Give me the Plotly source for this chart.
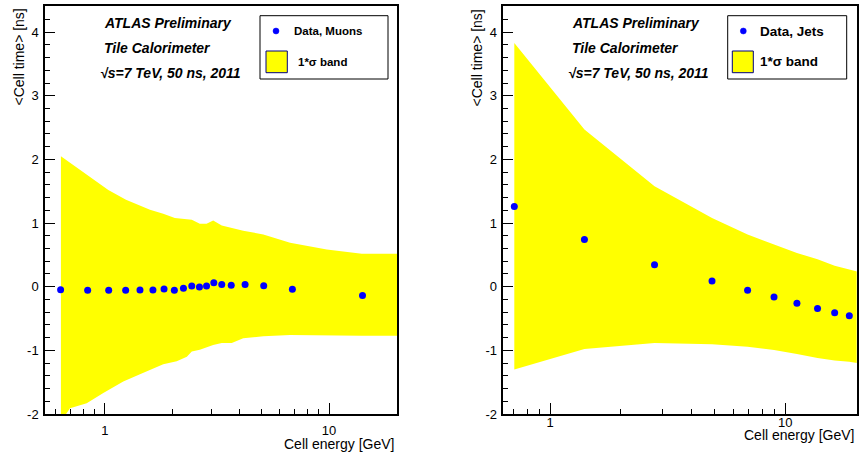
import numpy as np
import plotly.graph_objects as go

# ---------------- data ----------------
# Left panel: muons
mu_E = [0.634, 0.837, 1.039, 1.237, 1.433, 1.637, 1.835, 2.04, 2.24, 2.44,
        2.64, 2.84, 3.06, 3.32, 3.66, 4.22, 5.11, 6.86, 14.1]
mu_t = [-0.047, -0.057, -0.057, -0.057, -0.052, -0.052, -0.036, -0.057, -0.026, 0.010,
        -0.005, 0.010, 0.062, 0.036, 0.021, 0.036, 0.016, -0.042, -0.14]

mu_band_up_E = [0.636, 0.857, 1.035, 1.241, 1.588, 1.82, 2.05, 2.44, 2.65, 2.84,
                3.04, 3.32, 4.14, 5.09, 6.70, 9.77, 14.0, 21.0]
mu_band_up = [2.05, 1.73, 1.52, 1.365, 1.21, 1.146, 1.08, 1.05, 0.99, 0.99,
              1.04, 0.96, 0.88, 0.82, 0.69, 0.583, 0.516, 0.516]
mu_band_lo_E = [0.636, 0.698, 0.829, 0.983, 1.207, 1.433, 1.82, 2.09, 2.32, 2.44,
                2.65, 3.04, 3.32, 3.68, 4.14, 5.09, 6.70, 9.77, 14.0, 21.0]
mu_band_lo = [-2.12, -1.91, -1.83, -1.67, -1.49, -1.375, -1.22, -1.17, -1.10, -1.02,
              -0.99, -0.917, -0.885, -0.885, -0.81, -0.78, -0.76, -0.77, -0.77, -0.77]

# Right panel: jets
jet_E = [0.705, 1.40, 2.78, 4.88, 6.91, 8.95, 11.2, 13.7, 16.2, 18.7]
jet_t = [1.26, 0.74, 0.344, 0.089, -0.057, -0.161, -0.26, -0.344, -0.41, -0.458]

jet_band_E = [0.705, 1.40, 2.78, 4.88, 6.91, 8.95, 11.2, 13.7, 16.2, 18.7, 21.0]
jet_band_up = [3.83, 2.47, 1.58, 1.08, 0.82, 0.66, 0.53, 0.43, 0.33, 0.27, 0.22]
jet_band_lo = [-1.30, -0.98, -0.885, -0.906, -0.943, -0.995, -1.057, -1.12, -1.16, -1.18, -1.21]

y_major = [-2, -1, 0, 1, 2, 3, 4]
y_major_text = ["-2", "-1", "0", "1", "2", "3", "4"]
x_major = [1, 10]
x_major_text = ["1", "10"]
x_minor = [0.5, 0.6, 0.7, 0.8, 0.9, 2, 3, 4, 5, 6, 7, 8, 9, 20]

W, H = 859, 455
YELLOW = "#ffff00"
BLUE = "#0000ff"
FONT = "Liberation Sans, Arial, Helvetica, sans-serif"

fig = go.Figure()

# bands
fig.add_trace(go.Scatter(
    x=mu_band_up_E + mu_band_lo_E[::-1], y=mu_band_up + mu_band_lo[::-1],
    fill="toself", fillcolor=YELLOW, line=dict(width=0), mode="lines",
    hoverinfo="skip", showlegend=False, xaxis="x", yaxis="y"))
fig.add_trace(go.Scatter(
    x=jet_band_E + jet_band_E[::-1], y=jet_band_up + jet_band_lo[::-1],
    fill="toself", fillcolor=YELLOW, line=dict(width=0), mode="lines",
    hoverinfo="skip", showlegend=False, xaxis="x2", yaxis="y2"))

# points
fig.add_trace(go.Scatter(x=mu_E, y=mu_t, mode="markers",
                         marker=dict(color=BLUE, size=7), showlegend=False,
                         xaxis="x", yaxis="y"))
fig.add_trace(go.Scatter(x=jet_E, y=jet_t, mode="markers",
                         marker=dict(color=BLUE, size=7), showlegend=False,
                         xaxis="x2", yaxis="y2"))

y_minor = [round(v, 1) for v in np.arange(-2.0, 4.41, 0.2) if abs(v - round(v)) > 1e-6]


def xax(dom, rng, anchor, standoff):
    return dict(type="log", domain=dom, range=rng, anchor=anchor,
                automargin=False,
                showgrid=False, zeroline=False,
                showline=True, mirror=True, linecolor="black", linewidth=1.5,
                ticks="inside", ticklen=11, tickwidth=1.3, tickcolor="black",
                tickmode="array", tickvals=x_major, ticktext=x_major_text,
                ticklabelstandoff=standoff,
                tickfont=dict(family=FONT, size=13, color="black"),
                minor=dict(tickmode="array", tickvals=x_minor, ticklen=5,
                           tickwidth=1.3, tickcolor="black", ticks="inside",
                           showgrid=False))


def yax(dom, anchor):
    return dict(domain=dom, range=[-2, 4.41], anchor=anchor,
                automargin=False,
                showgrid=False, zeroline=False,
                showline=True, mirror=True, linecolor="black", linewidth=1.5,
                ticks="inside", ticklen=10, tickwidth=1.3, tickcolor="black",
                tickmode="array", tickvals=y_major, ticktext=y_major_text,
                ticklabelstandoff=2,
                tickfont=dict(family=FONT, size=13, color="black"),
                minor=dict(tickmode="array", tickvals=y_minor, ticklen=5,
                           tickwidth=1.3, tickcolor="black", ticks="inside",
                           showgrid=False))


ydom = [1 - 414 / H, 1 - 6 / H]
fig.update_layout(
    template="none",
    width=W, height=H, margin=dict(l=0, r=0, t=0, b=0, pad=0),
    paper_bgcolor="white", plot_bgcolor="white", showlegend=False,
    xaxis=xax([45 / W, 397 / W], [np.log10(0.54), np.log10(20.1)], "y", 4),
    yaxis=yax(ydom, "x"),
    xaxis2=xax([503.3 / W, 856.7 / W], [np.log10(0.633), np.log10(20.1)], "y2", -4),
    yaxis2=yax(ydom, "x2"),
)

ann = []
shapes = []


def px(x):
    return x / W


def py(y):
    return 1 - y / H


def text(x, y, s, size, xanchor="left", yanchor="middle", angle=0):
    ann.append(dict(x=px(x), y=py(y), xref="paper", yref="paper", text=s,
                    showarrow=False, xanchor=xanchor, yanchor=yanchor,
                    textangle=angle,
                    font=dict(family=FONT, size=size, color="black")))


for ox in (0, 468):
    text(102 + ox, 22.5, "<b><i>ATLAS Preliminary</i></b>", 14)
    text(102 + ox, 48, "<b><i>Tile Calorimeter</i></b>", 14)
    text(98 + ox, 73.5, "<b><i>√s=7 TeV, 50 ns, 2011</i></b>", 14)

# axis titles
text(19, 7, "&lt;Cell time&gt; [ns]", 14, xanchor="center", yanchor="top", angle=-90)
text(477, 7, "&lt;Cell time&gt; [ns]", 14, xanchor="center", yanchor="top", angle=-90)
text(397, 444, "Cell energy [GeV]", 14, xanchor="right")
text(857, 435, "Cell energy [GeV]", 14, xanchor="right")


def legend(x0, x1, y0, y1, mx, sq, tx, label, size):
    shapes.append(dict(type="rect", xref="paper", yref="paper",
                       x0=px(x0), x1=px(x1), y0=py(y1), y1=py(y0),
                       line=dict(color="black", width=1), fillcolor="white"))
    shapes.append(dict(type="circle", xref="paper", yref="paper",
                       x0=px(mx - 3), x1=px(mx + 3), y0=py(31 + 3), y1=py(31 - 3),
                       line=dict(color=BLUE, width=0.5), fillcolor=BLUE))
    shapes.append(dict(type="rect", xref="paper", yref="paper",
                       x0=px(sq[0]), x1=px(sq[1]), y0=py(72.7), y1=py(51),
                       line=dict(color="#000080", width=1), fillcolor=YELLOW))
    text(tx, 31.5, "<b>" + label + "</b>", size)
    text(tx + (4 if size < 12 else 0), 62, "<b>1*σ band</b>", size)


legend(260, 388, 15.7, 79, 276, (266, 287.3), 292, "Data, Muons", 11.5)
legend(727.7, 846.7, 15.7, 79, 743.3, (732.3, 753.3), 758.3, "Data, Jets", 13.5)

fig.update_layout(annotations=ann, shapes=shapes)
fig.write_html("out.html")
